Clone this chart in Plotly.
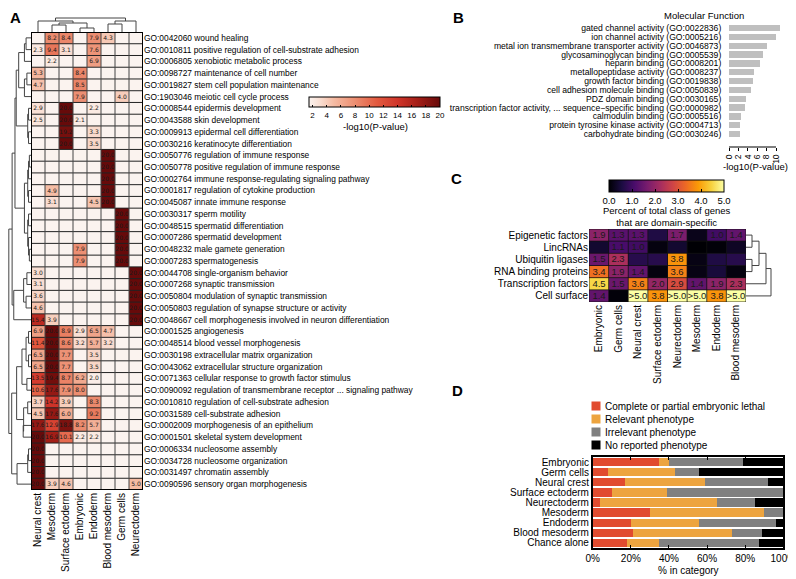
import plotly.graph_objects as go

W, H = 796, 579
OFF = 8  # page body margin offset
def fx(px): return (px - OFF) / W
def fy(py): return 1 - (py - OFF) / H

FONT = "Liberation Sans"

# ---------------- Panel A data ----------------
A_cols = ["Neural crest", "Mesoderm", "Surface ectoderm", "Embryonic", "Endoderm",
          "Blood mesoderm", "Germ cells", "Neurectoderm"]
A_terms = [
    "GO:0042060 wound healing",
    "GO:0010811 positive regulation of cell-substrate adhesion",
    "GO:0006805 xenobiotic metabolic process",
    "GO:0098727 maintenance of cell number",
    "GO:0019827 stem cell population maintenance",
    "GO:1903046 meiotic cell cycle process",
    "GO:0008544 epidermis development",
    "GO:0043588 skin development",
    "GO:0009913 epidermal cell differentiation",
    "GO:0030216 keratinocyte differentiation",
    "GO:0050776 regulation of immune response",
    "GO:0050778 positive regulation of immune response",
    "GO:0002764 immune response-regulating signaling pathway",
    "GO:0001817 regulation of cytokine production",
    "GO:0045087 innate immune response",
    "GO:0030317 sperm motility",
    "GO:0048515 spermatid differentiation",
    "GO:0007286 spermatid development",
    "GO:0048232 male gamete generation",
    "GO:0007283 spermatogenesis",
    "GO:0044708 single-organism behavior",
    "GO:0007268 synaptic transmission",
    "GO:0050804 modulation of synaptic transmission",
    "GO:0050803 regulation of synapse structure or activity",
    "GO:0048667 cell morphogenesis involved in neuron differentiation",
    "GO:0001525 angiogenesis",
    "GO:0048514 blood vessel morphogenesis",
    "GO:0030198 extracellular matrix organization",
    "GO:0043062 extracellular structure organization",
    "GO:0071363 cellular response to growth factor stimulus",
    "GO:0090092 regulation of transmembrane receptor ... signaling pathway",
    "GO:0010810 regulation of cell-substrate adhesion",
    "GO:0031589 cell-substrate adhesion",
    "GO:0002009 morphogenesis of an epithelium",
    "GO:0001501 skeletal system development",
    "GO:0006334 nucleosome assembly",
    "GO:0034728 nucleosome organization",
    "GO:0031497 chromatin assembly",
    "GO:0090596 sensory organ morphogenesis",
]
N = None
A_vals = [
    [N, 8.2, 8.4, N, 7.9, 4.3, N, N],
    [2.3, 9.4, 3.1, N, 7.6, N, N, N],
    [N, 2.2, N, N, 6.9, N, N, N],
    [5.3, N, N, 8.4, N, N, N, N],
    [4.7, N, N, 8.5, N, N, N, N],
    [N, N, N, 7.9, N, N, 4.0, N],
    [2.9, N, 20.0, N, 2.2, N, N, N],
    [2.5, N, 20.0, 2.1, N, N, N, N],
    [N, N, 19.2, N, 3.3, N, N, N],
    [N, N, 20.0, N, 3.5, N, N, N],
    [N, N, N, N, N, 20.0, N, N],
    [N, N, N, N, N, 20.0, N, N],
    [N, N, N, N, N, 20.0, N, N],
    [N, 4.9, N, N, N, 20.0, N, N],
    [N, 3.1, N, N, 4.5, 20.0, N, N],
    [N, N, N, N, N, N, 20.0, N],
    [N, N, N, N, N, N, 20.0, N],
    [N, N, N, N, N, N, 20.0, N],
    [N, N, N, 7.9, N, N, 20.0, N],
    [N, N, N, 7.9, N, N, 20.0, N],
    [3.0, N, N, N, N, N, N, 20.0],
    [3.1, N, N, N, N, N, N, 20.0],
    [3.6, N, N, N, N, N, N, 20.0],
    [4.6, N, N, N, N, N, N, 20.0],
    [15.4, 3.9, N, N, N, N, N, 20.0],
    [6.9, 20.0, 8.9, 2.9, 6.5, 4.7, N, N],
    [11.4, 20.0, 8.6, 3.2, 5.7, 3.2, N, N],
    [6.5, 20.0, 7.7, N, 3.5, N, N, N],
    [6.5, 20.0, 7.7, N, 3.5, N, N, N],
    [13.5, 19.4, 8.7, 6.2, 2.0, N, N, N],
    [10.6, 17.6, 7.9, 8.0, N, N, N, N],
    [3.7, 14.2, 3.9, N, 8.3, N, N, N],
    [4.5, 17.6, 6.0, N, 9.2, N, N, N],
    [17.6, 12.9, 18.8, 8.2, 5.7, N, N, N],
    [20.0, 16.9, 10.1, 2.2, 2.2, N, N, N],
    [20.0, N, N, N, N, N, N, N],
    [20.0, N, N, N, N, N, N, N],
    [20.0, N, N, N, N, N, N, N],
    [20.0, 3.9, 4.6, N, N, N, N, 5.0],
]
A_ticks = [2, 4, 6, 8, 10, 12, 14, 16, 18, 20]
A_blank = 1.5
# dendrogram trees: [height, left, right], leaves = index
A_row_tree = [27,
    [23,
        [19.5,
            [18,
                [15, [8, [6, 0, 1], 2], [8, [5, 3, 4], 5]],
                [4, [3, 6, 7], [3, 8, 9]]],
            [8,
                [4, [3, [2, 10, 11], 12], [3, 13, 14]],
                [4, [3, 15, 16], [3, 17, [2, 18, 19]]]]],
        [21, [9, [5, 20, 21], [6, 22, 23]], 24]],
    [23.5,
        [17.5,
            [11, [6, [3, 25, 26], [3, 27, 28]], [5, 29, 30]],
            [9, [4, 31, 32], [9.5, 33, 34]]],
        [17, [4, [3, 35, 36], 37], 38]]]
A_col_tree = [14, [11, 0, [9, [7, 1, 2], [4, 3, 4]]], [11, [8, 5, 6], 7]]

# ---------------- Panel B data ----------------
mf_terms = [
    "gated channel activity (GO:0022836)",
    "ion channel activity (GO:0005216)",
    "metal ion transmembrane transporter activity (GO:0046873)",
    "glycosaminoglycan binding (GO:0005539)",
    "heparin binding (GO:0008201)",
    "metallopeptidase activity (GO:0008237)",
    "growth factor binding (GO:0019838)",
    "cell adhesion molecule binding (GO:0050839)",
    "PDZ domain binding (GO:0030165)",
    "transcription factor activity, ... sequence\u2212specific binding (GO:0000982)",
    "calmodulin binding (GO:0005516)",
    "protein tyrosine kinase activity (GO:0004713)",
    "carbohydrate binding (GO:0030246)",
]
mf_values = [10.9, 10.1, 8.0, 7.2, 6.5, 5.3, 5.0, 4.7, 3.6, 3.5, 2.6, 2.4, 2.3]
mf_ticks = [0, 2, 4, 6, 8, 10]

# ---------------- Panel C data ----------------
C_rows = ["Epigenetic factors", "LincRNAs", "Ubiquitin ligases", "RNA binding proteins",
          "Transcription factors", "Cell surface"]
C_cols = ["Embryonic", "Germ cells", "Neural crest", "Surface ectoderm", "Neurectoderm",
          "Mesoderm", "Endoderm", "Blood mesoderm"]
C_vals = [
    [1.9, 1.3, 1.3, 0.6, 1.7, 0.2, 1.0, 1.4],
    [0.4, 1.1, 1.0, 0.1, 0.4, 0.0, 0.05, 0.3],
    [1.5, 2.3, 0.7, 0.7, 3.8, 0.15, 0.6, 0.7],
    [3.4, 1.9, 1.4, 0.1, 3.6, 0.15, 0.5, 0.1],
    [4.5, 1.5, 3.6, 2.0, 2.9, 1.4, 1.9, 2.3],
    [1.4, 0.05, 5.5, 3.8, 5.5, 5.5, 3.8, 5.5],
]
C_ticks = [0, 1, 2, 3, 4, 5]
C_row_tree = [25, [20, [13, [6, 0, 1], [6, 2, 3]], 4], 5]

# ---------------- Panel D data ----------------
D_cats = ["Embryonic", "Germ cells", "Neural crest", "Surface ectoderm", "Neurectoderm",
          "Mesoderm", "Endoderm", "Blood mesoderm", "Chance alone"]
D_series = ["Complete or partial embryonic lethal", "Relevant phenotype",
            "Irrelevant phenotype", "No reported phenotype"]
D_lethal = [35, 8, 17, 10, 4, 30, 20, 21, 18]
D_relevant = [5, 35, 42, 29, 61, 60, 36, 52, 17]
D_irrelevant = [39, 13, 33, 61, 20, 10, 40, 16, 52]
D_none = [21, 44, 8, 0, 15, 0, 4, 11, 13]
D_colors = ["#e14b2f", "#eda43f", "#808080", "#000000"]
D_ticks = [0, 20, 40, 60, 80, 100]
D_ticktext = ["%d%%" % t for t in D_ticks]


def dendro(tree):
    pos, hts = [], []
    def rec(node):
        if isinstance(node, int):
            return node, 0.0
        h, l, r = node
        pl, hl = rec(l)
        pr, hr = rec(r)
        pos.extend([pl, pl, pr, pr, None])
        hts.extend([hl, h, h, hr, None])
        return (pl + pr) / 2, h
    rec(tree)
    return pos, hts


fig = go.Figure()

# ---- Panel A heatmap ----
A_scale = [
    [0.0, "#fbf3ef"], [0.081, "#f9dfd3"], [0.189, "#f5bba3"], [0.351, "#ec8e71"],
    [0.514, "#e35b40"], [0.676, "#d0352a"], [0.838, "#a11d16"], [1.0, "#670a0a"]]
A_z = [[v if v is not None else A_blank for v in row] for row in A_vals]
A_text = [["%.1f" % v if v is not None else "" for v in row] for row in A_vals]
fig.add_trace(go.Heatmap(
    z=A_z, x=list(range(len(A_cols))), y=list(range(len(A_terms))),
    text=A_text, texttemplate="%{text}",
    textfont=dict(size=6, color="#1a1a1a", family="DejaVu Sans"),
    colorscale=A_scale, zmin=A_blank, zmax=20, xaxis="x", yaxis="y",
    hoverinfo="skip",
    colorbar=dict(orientation="h", x=fx(374.5), xanchor="center", y=fy(97), yanchor="top",
                  len=131 / W, lenmode="fraction", thickness=10, thicknessmode="pixels",
                  xpad=0, ypad=0, tickvals=A_ticks, ticks="inside", ticklen=2,
                  tickcolor="black",
                  tickfont=dict(size=8, family=FONT, color="black"),
                  outlinewidth=1, outlinecolor="black")))

# ---- Panel A dendrograms ----
p, h = dendro(A_row_tree)
fig.add_trace(go.Scatter(x=h, y=p, mode="lines", line=dict(color="#444", width=1),
                         xaxis="x5", yaxis="y5", hoverinfo="skip", showlegend=False))
p, h = dendro(A_col_tree)
fig.add_trace(go.Scatter(x=p, y=h, mode="lines", line=dict(color="#444", width=1),
                         xaxis="x6", yaxis="y6", hoverinfo="skip", showlegend=False))

# ---- Panel B bars ----
fig.add_trace(go.Bar(x=mf_values, y=list(range(len(mf_terms))), orientation="h",
                     marker=dict(color="#bfbfbf", line=dict(width=0)), width=0.72,
                     xaxis="x2", yaxis="y2", hoverinfo="skip", showlegend=False))

# ---- Panel C heatmap ----
C_z = [[min(v, 5) for v in row] for row in C_vals]
C_text = [[(">5.0" if v > 5 else ("%.1f" % v if v >= 1.0 else "")) for v in row] for row in C_vals]
fig.add_trace(go.Heatmap(
    z=C_z, x=list(range(len(C_cols))), y=list(range(len(C_rows))),
    text=C_text, texttemplate="%{text}",
    textfont=dict(size=9.5, color="#1a1a1a", family=FONT),
    colorscale="Inferno", zmin=0, zmax=5, xaxis="x3", yaxis="y3", hoverinfo="skip",
    colorbar=dict(orientation="h", x=fx(666.5), xanchor="center", y=fy(180), yanchor="top",
                  len=115 / W, lenmode="fraction", thickness=12, thicknessmode="pixels",
                  xpad=0, ypad=0, tickvals=C_ticks, ticktext=["%.1f" % t for t in C_ticks],
                  ticks="inside", ticklen=3, tickcolor="black",
                  tickfont=dict(size=9.5, family=FONT, color="black"),
                  outlinewidth=1, outlinecolor="black")))
p, h = dendro(C_row_tree)
fig.add_trace(go.Scatter(x=h, y=p, mode="lines", line=dict(color="#444", width=1),
                         xaxis="x7", yaxis="y7", hoverinfo="skip", showlegend=False))

# ---- Panel D stacked bars ----
for name, vals, col in zip(D_series, [D_lethal, D_relevant, D_irrelevant, D_none], D_colors):
    fig.add_trace(go.Bar(x=vals, y=list(range(len(D_cats))), orientation="h", name=name,
                         marker=dict(color=col, line=dict(width=0)), width=0.82,
                         xaxis="x4", yaxis="y4", hoverinfo="skip", showlegend=False))

# ---------------- shapes ----------------
shapes = []
nr, nc = len(A_terms), len(A_cols)
for i in range(nr + 1):
    shapes.append(dict(type="line", xref="x", yref="y", x0=-0.5, x1=nc - 0.5,
                       y0=i - 0.5, y1=i - 0.5, line=dict(color="#222", width=1), layer="above"))
for j in range(nc + 1):
    shapes.append(dict(type="line", xref="x", yref="y", x0=j - 0.5, x1=j - 0.5,
                       y0=-0.5, y1=nr - 0.5, line=dict(color="#444", width=1), layer="above"))
shapes.append(dict(type="rect", xref="x", yref="y", x0=-0.5, x1=nc - 0.5, y0=-0.5, y1=nr - 0.5,
                   line=dict(color="black", width=2), layer="above"))
cr, cc = len(C_rows), len(C_cols)
for i in range(cr + 1):
    shapes.append(dict(type="line", xref="x3", yref="y3", x0=-0.5, x1=cc - 0.5,
                       y0=i - 0.5, y1=i - 0.5, line=dict(color="#111", width=0.8), layer="above"))
for j in range(cc + 1):
    shapes.append(dict(type="line", xref="x3", yref="y3", x0=j - 0.5, x1=j - 0.5,
                       y0=-0.5, y1=cr - 0.5, line=dict(color="#111", width=0.8), layer="above"))
# panel B axis line spanning first to last tick
shapes.append(dict(type="line", xref="x2", yref="paper", x0=mf_ticks[0], x1=mf_ticks[-1],
                   y0=fy(147), y1=fy(147), line=dict(color="black", width=1)))
# panel D legend swatches
for k, col in enumerate(D_colors):
    yc = 406 + 13 * k
    shapes.append(dict(type="rect", xref="paper", yref="paper", x0=fx(591.5), x1=fx(600.5),
                       y0=fy(yc + 4.5), y1=fy(yc - 4.5), fillcolor=col, line=dict(width=0)))

annotations = []
for lab, (xx, yy) in zip(["A", "B", "C", "D"], [(8, 17), (451, 17), (449, 179), (450, 391)]):
    annotations.append(dict(text="<b>%s</b>" % lab, x=fx(xx), y=fy(yy), xref="paper", yref="paper",
                            showarrow=False, xanchor="left", yanchor="middle",
                            font=dict(size=15, family=FONT, color="black")))
annotations.append(dict(text="Molecular Function", x=fx(704), y=fy(15), xref="paper", yref="paper",
                        showarrow=False, xanchor="center", yanchor="middle",
                        font=dict(size=9.5, family=FONT, color="black")))
annotations.append(dict(text="-log10(P-value)", x=fx(755), y=fy(166), xref="paper", yref="paper",
                        showarrow=False, xanchor="center", yanchor="middle",
                        font=dict(size=9.5, family=FONT, color="black")))
annotations.append(dict(text="-log10(P-value)", x=fx(375), y=fy(126), xref="paper", yref="paper",
                        showarrow=False, xanchor="center", yanchor="middle",
                        font=dict(size=9.5, family=FONT, color="black")))
annotations.append(dict(text="Percent of total class of genes<br>that are domain-specific",
                        x=fx(666.5), y=fy(216), xref="paper", yref="paper",
                        showarrow=False, xanchor="center", yanchor="middle",
                        font=dict(size=9.5, family=FONT, color="black")))
annotations.append(dict(text="% in category", x=fx(688), y=fy(570), xref="paper", yref="paper",
                        showarrow=False, xanchor="center", yanchor="middle",
                        font=dict(size=10, family=FONT, color="black")))
for k, name in enumerate(D_series):
    annotations.append(dict(text=name, x=fx(603), y=fy(406 + 13 * k), xref="paper", yref="paper",
                            showarrow=False, xanchor="left", yanchor="middle",
                            font=dict(size=10, family=FONT, color="black")))

hid = dict(visible=False, showgrid=False, zeroline=False, automargin=False)
base = dict(showgrid=False, zeroline=False, automargin=False, color="black")

fig.update_layout(
    width=W, height=H, margin=dict(l=0, r=0, t=0, b=0),
    template="none", paper_bgcolor="white", plot_bgcolor="rgba(0,0,0,0)",
    font=dict(family=FONT, color="black"), showlegend=False, barmode="stack",
    shapes=shapes, annotations=annotations,
    xaxis=dict(base, domain=[fx(31), fx(143)], range=[-0.5, nc - 0.5], anchor="y",
               tickvals=list(range(nc)), ticktext=A_cols, tickangle=-90, ticks="",
               showline=False, tickfont=dict(size=10)),
    yaxis=dict(base, domain=[fy(490), fy(32)], range=[nr - 0.5, -0.5], anchor="x",
               tickvals=list(range(nr)), ticktext=A_terms, side="right", ticks="",
               showline=False, tickfont=dict(size=8.4)),
    xaxis2=dict(base, domain=[fx(729), fx(729 + 4.7 * 11.2)], range=[0, 11.2], anchor="y2",
                tickvals=mf_ticks, tickangle=-90, ticks="outside", ticklen=3, showline=False,
                tickfont=dict(size=8.5)),
    yaxis2=dict(base, domain=[fy(147), fy(23.6)], range=[13.47, -0.5], anchor="x2",
                tickvals=list(range(len(mf_terms))), ticktext=mf_terms, ticks="outside",
                ticklen=5, tickcolor="rgba(0,0,0,0)", showline=False, tickfont=dict(size=8.6)),
    xaxis3=dict(base, domain=[fx(589), fx(746)], range=[-0.5, cc - 0.5], anchor="y3",
                tickvals=list(range(cc)), ticktext=C_cols, tickangle=-90, ticks="",
                showline=False, tickfont=dict(size=10)),
    yaxis3=dict(base, domain=[fy(302), fy(229)], range=[cr - 0.5, -0.5], anchor="x3",
                tickvals=list(range(cr)), ticktext=C_rows, ticks="", showline=False,
                tickfont=dict(size=10)),
    xaxis4=dict(base, domain=[fx(592.7), fx(783.3)], range=[0, 100], anchor="y4",
                tickvals=D_ticks, ticktext=D_ticktext, ticks="inside", ticklen=3, showline=True,
                linecolor="black", linewidth=1.5, mirror="ticks", tickfont=dict(size=10)),
    yaxis4=dict(base, domain=[fy(548), fy(457)], range=[len(D_cats) - 0.5, -0.5], anchor="x4",
                tickvals=list(range(len(D_cats))), ticktext=D_cats, ticks="", showline=True,
                linecolor="black", linewidth=1.5, mirror=True, tickfont=dict(size=10)),
    xaxis5=dict(hid, domain=[fx(8), fx(31)], range=[28, 0], anchor="y5"),
    yaxis5=dict(hid, domain=[fy(490), fy(32)], range=[nr - 0.5, -0.5], anchor="x5"),
    xaxis6=dict(hid, domain=[fx(31), fx(143)], range=[-0.5, nc - 0.5], anchor="y6"),
    yaxis6=dict(hid, domain=[fy(32), fy(12)], range=[0, 20], anchor="x6"),
    xaxis7=dict(hid, domain=[fx(746), fx(774)], range=[0, 28], anchor="y7"),
    yaxis7=dict(hid, domain=[fy(302), fy(229)], range=[cr - 0.5, -0.5], anchor="x7"),
)

fig.write_html("out.html")
